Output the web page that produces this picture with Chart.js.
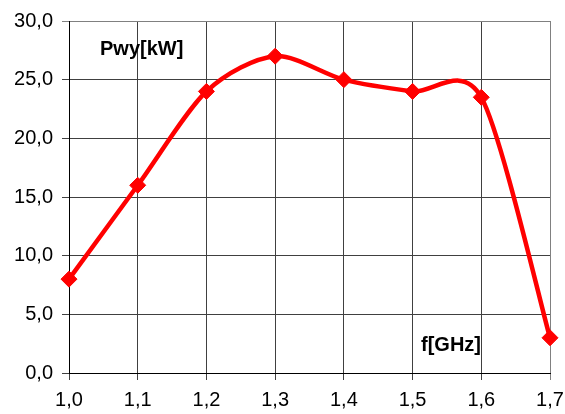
<!DOCTYPE html>
<html lang="pl">
  <head>
    <meta charset="UTF-8" />
    <title>Pwy(f)</title>
    <script src="https://cdn.jsdelivr.net/npm/chart.js"></script>
    <style>
      html,
      body {
        margin: 0;
        padding: 0;
        background: #fff;
      }
      #wrap {
        width: 565px;
        height: 414px;
      }
    </style>
  </head>
  <body>
    <div id="wrap"><canvas id="powerChart"></canvas></div>

    <script>
      // f [GHz] vs Pwy [kW]
      const freqs = [1.0, 1.1, 1.2, 1.3, 1.4, 1.5, 1.6, 1.7];
      const power = [8.0, 16.0, 24.0, 27.0, 25.0, 24.0, 23.5, 3.0];
      const yLabel = "Pwy[kW]";
      const xLabel = "f[GHz]";

      const fmt = (v) => v.toFixed(1).replace(".", ",");
      const fontFamily = "'Liberation Sans', Arial, sans-serif";

      const axisText = {
        id: "axisText",
        afterDraw(chart) {
          const ctx = chart.ctx;
          ctx.save();
          ctx.fillStyle = "#000";
          ctx.font = "bold 20px " + fontFamily;
          ctx.textBaseline = "middle";
          ctx.fillText(yLabel, 100, 49);
          ctx.fillText(xLabel, 421, 345);
          ctx.restore();
        },
      };

      // spreadsheet-style smoothing: uniform Catmull-Rom-like control points
      const smoothLine = {
        id: "smoothLine",
        beforeDatasetDraw(chart, args) {
          const meta = args.meta;
          meta.dataset.updateControlPoints(chart.chartArea);
          const pts = meta.data;
          pts.forEach((p, i) => {
            const prev = pts[Math.max(i - 1, 0)];
            const next = pts[Math.min(i + 1, pts.length - 1)];
            const dx = (next.x - prev.x) / 7;
            const dy = (next.y - prev.y) / 7;
            p.cp1x = p.x - dx;
            p.cp1y = p.y - dy;
            p.cp2x = p.x + dx;
            p.cp2y = p.y + dy;
          });
        },
      };

      const ctx = document.getElementById("powerChart").getContext("2d");
      new Chart(ctx, {
        type: "line",
        data: {
          datasets: [
            {
              data: freqs.map((f, i) => ({ x: f, y: power[i] })),
              borderColor: "#ff0000",
              backgroundColor: "#ff0000",
              borderWidth: 4.5,
              tension: 0.3,
              pointStyle: "rectRot",
              pointRadius: 8,
              pointBorderWidth: 1,
              pointHoverRadius: 8,
              clip: false,
            },
          ],
        },
        options: {
          responsive: true,
          maintainAspectRatio: false,
          animation: false,
          layout: { padding: { top: 21, right: 15, left: 0, bottom: 0 } },
          plugins: {
            legend: { display: false },
            tooltip: { enabled: false },
          },
          scales: {
            x: {
              type: "linear",
              min: 1.0,
              max: 1.7,
              afterBuildTicks: (s) => {
                s.ticks = freqs.map((v) => ({ value: v }));
              },
              afterFit: (s) => {
                s.height = 41;
                s.paddingRight = 0;
                s.paddingLeft = 0;
              },
              grid: {
                color: (c) => (c.index === freqs.length - 1 ? "#808080" : "#404040"),
                lineWidth: 1,
                tickLength: 7,
              },
              border: { color: "#000", width: 1 },
              ticks: {
                color: "#000",
                padding: 8,
                maxRotation: 0,
                font: { family: fontFamily, size: 20 },
                callback: (v) => fmt(v),
              },
            },
            y: {
              min: 0,
              max: 30,
              afterFit: (s) => {
                s.width = 69;
                s.paddingTop = 0;
                s.paddingBottom = 0;
              },
              grid: {
                color: (c) => (c.tick && c.tick.value === 30 ? "#808080" : "#404040"),
                lineWidth: 1,
                tickLength: 7,
              },
              border: { color: "#000", width: 1 },
              ticks: {
                stepSize: 5,
                color: "#000",
                padding: 9,
                font: { family: fontFamily, size: 20 },
                callback: (v) => fmt(v),
              },
            },
          },
        },
        plugins: [axisText, smoothLine],
      });
    </script>
  </body>
</html>
